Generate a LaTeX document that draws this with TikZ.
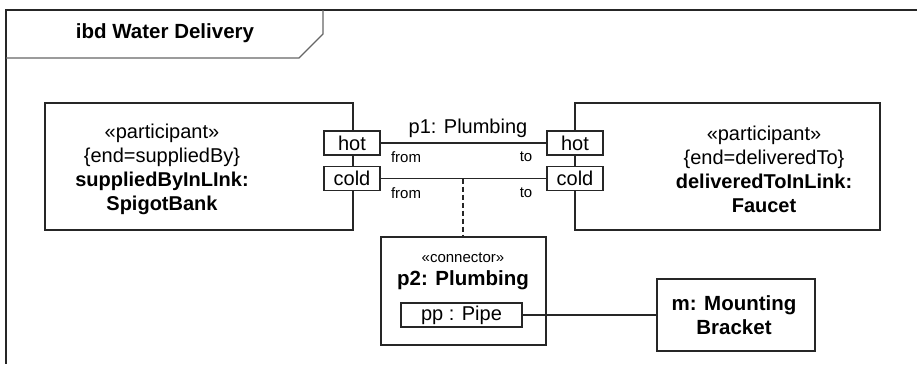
\documentclass[tikz,border=0pt]{standalone}
\usepackage{fontspec}
\setmainfont{Liberation Sans}
\tikzset{
  every node/.style={inner sep=0pt, outer sep=0pt},
  blk/.style={draw=black!85, line width=1.1pt, fill=white},
  port/.style={draw=black!85, line width=1.1pt, fill=white, minimum width=56pt, minimum height=24pt, font=\fontsize{20}{24}\selectfont},
  conn/.style={draw=black!85, line width=1.1pt},
  big/.style={font=\fontsize{20}{24}\selectfont, align=center},
  small/.style={font=\fontsize{15}{18}\selectfont},
  frm/.style={draw=black!85, line width=1.4pt}
}
\begin{document}
\begin{tikzpicture}[x=1pt,y=-1pt]
\useasboundingbox (0,0) rectangle (917,364);
% frame
\draw[frm] (917,10) -- (6,10) -- (6,364);
\draw[draw=black!60, line width=1.2pt] (6,58) -- (299,58) -- (323,34) -- (323,10);
\node[font=\fontsize{20.5}{24}\selectfont\bfseries] (title) at (165,33) {ibd Water Delivery};
% left part
\node[blk, minimum width=308pt, minimum height=127pt] (sb) at (199,166.5) {};
\node[big] (sbt) at (162,169) {«participant»\\\{end=suppliedBy\}\\\textbf{suppliedByInLInk:}\\\textbf{SpigotBank}};
% right part
\node[blk, minimum width=305pt, minimum height=127pt] (dt) at (727.5,166.5) {};
\node[big] (dtt) at (764,169) {«participant»\\\{end=deliveredTo\}\\\textbf{deliveredToInLink:}\\\textbf{Faucet}};
% ports
\node[port] (lhot) at (352,143) {hot};
\node[port] (lcold) at (352,178.5) {cold};
\node[port] (rhot) at (575,143) {hot};
\node[port] (rcold) at (575,178.5) {cold};
% connectors
\draw[conn] (lhot.east) -- (rhot.west);
\draw[conn] (lcold.east) -- (rcold.west);
\node[big] (p1) at (468,128) {p1: Plumbing};
\node[small] (f1) at (406,157) {from};
\node[small] (f2) at (406,193) {from};
\node[small] (t1) at (526,157) {to};
\node[small] (t2) at (526,193) {to};
% connector property
\node[blk, minimum width=165pt, minimum height=108pt] (p2) at (463.5,291) {};
\node[small] (p2s) at (463,258) {«connector»};
\node[big, font=\fontsize{20.5}{24}\selectfont\bfseries] (p2t) at (463,280) {p2: Plumbing};
\node[port, minimum width=121pt] (pp) at (461.5,315) {pp : Pipe};
\coordinate (dj) at (463,178.5);
\draw[conn, dashed, dash pattern=on 5pt off 3pt] (dj) -- (p2.north -| dj);
% mounting bracket
\node[blk, minimum width=158pt, minimum height=72pt] (mb) at (736,315) {};
\node[big, font=\fontsize{20.5}{24}\selectfont\bfseries] (mbt) at (734,315) {m: Mounting\\Bracket};
\draw[conn] (pp.east) -- (mb.west);
\end{tikzpicture}
\end{document}
